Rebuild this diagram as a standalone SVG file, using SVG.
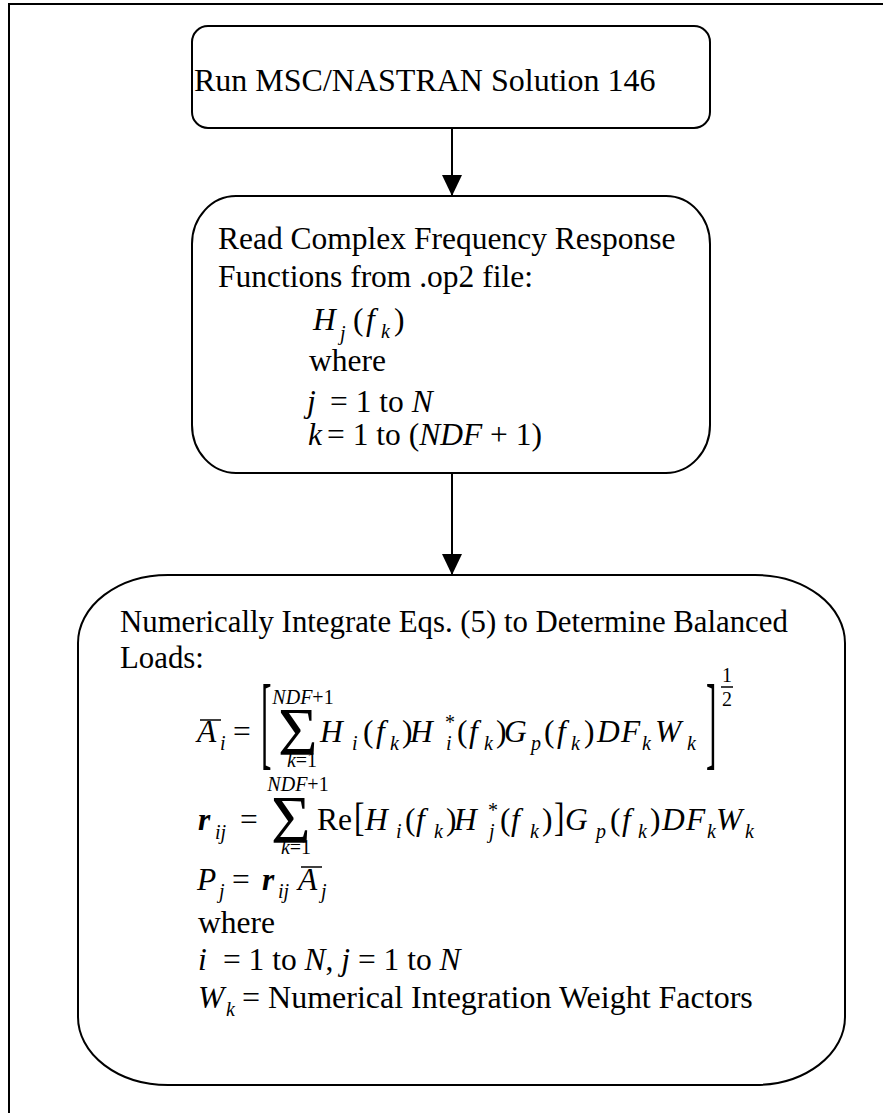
<svg xmlns="http://www.w3.org/2000/svg" width="883" height="1113" viewBox="0 0 883 1113">
<style>
text{font-family:"Liberation Serif","Times New Roman",serif;fill:#000}
.t{font-size:31.5px}
.it{font-style:italic}
.bi{font-style:italic;font-weight:bold}
.s{font-size:20px}
.box{fill:#fff;stroke:#000;stroke-width:2}
.ln{stroke:#000;stroke-width:2;fill:none}
.bar{stroke:#000;stroke-width:1.5}
</style>
<defs>
<marker id="ah" markerWidth="21" markerHeight="20" refX="21" refY="10" orient="auto" markerUnits="userSpaceOnUse">
<path d="M0,0 L21,10 L0,20 Z" fill="#000"/>
</marker>
</defs>
<rect x="9" y="4" width="900" height="1200" fill="#fff" stroke="#000" stroke-width="2"/>
<g id="connectors">
<line class="ln" x1="452" y1="128" x2="452" y2="196" marker-end="url(#ah)"/>
<line class="ln" x1="452" y1="473" x2="452" y2="575" marker-end="url(#ah)"/>
</g>
<g id="n1">
<rect class="box" x="192" y="26" width="518" height="102" rx="16" ry="16"/>
<text x="194" y="91" style="font-size:32px">Run MSC/NASTRAN Solution 146</text>
</g>
<g id="n2">
<rect class="box" x="192" y="196" width="518" height="277" rx="44" ry="48"/>
<text class="t" x="218" y="249">Read Complex Frequency Response</text>
<text class="t" x="218" y="287">Functions from .op2 file:</text>
<text class="t" y="330"><tspan class="it" x="313">H</tspan><tspan class="it s" x="340" dy="10">j</tspan><tspan x="353" dy="-10">(</tspan><tspan class="it" x="366">f</tspan><tspan class="it s" x="381" dy="8">k</tspan><tspan x="394" dy="-8">)</tspan></text>
<text class="t" x="309" y="371">where</text>
<text class="t" y="412"><tspan class="it" x="307">j</tspan><tspan x="330">= 1 to </tspan><tspan class="it">N</tspan></text>
<text class="t" y="445"><tspan class="it" x="308">k</tspan><tspan x="327">= 1 to (</tspan><tspan class="it">NDF</tspan> + 1)</text>
</g>
<g id="n3">
<rect class="box" x="78" y="575" width="767" height="510" rx="90" ry="68"/>
<text class="t" x="120" y="632" style="font-size:30.8px">Numerically Integrate Eqs. (5) to Determine Balanced</text>
<text class="t" x="120" y="668" style="font-size:30.8px">Loads:</text>
<!-- Eq 1 -->
<line class="bar" x1="200" y1="720" x2="221" y2="720"/>
<text class="t" y="742"><tspan class="it" x="197">A</tspan><tspan class="it s" x="220" dy="8">i</tspan><tspan x="233" dy="-8">=</tspan></text>
<text class="t" transform="translate(261,756) scale(1,3.3)">[</text>
<text x="278" y="754" style="font-size:68px">Σ</text>
<text class="s" x="303" y="704" text-anchor="middle"><tspan class="it">NDF</tspan>+1</text>
<text class="s" x="302" y="767" text-anchor="middle"><tspan class="it">k</tspan>=1</text>
<text class="t" y="742"><tspan class="it" x="320">H</tspan><tspan class="it s" x="352" dy="8">i</tspan><tspan x="363" dy="-8">(</tspan><tspan class="it" x="376">f</tspan><tspan class="it s" x="390" dy="8">k</tspan><tspan x="402" dy="-8">)</tspan><tspan class="it" x="410">H</tspan><tspan class="s" x="445" dy="-13">*</tspan><tspan class="it s" x="446" dy="21">i</tspan><tspan x="457" dy="-8">(</tspan><tspan class="it" x="469">f</tspan><tspan class="it s" x="484" dy="8">k</tspan><tspan x="496" dy="-8">)</tspan><tspan class="it" x="504">G</tspan><tspan class="it s" x="531" dy="8">p</tspan><tspan x="544" dy="-8">(</tspan><tspan class="it" x="557">f</tspan><tspan class="it s" x="571" dy="8">k</tspan><tspan x="584" dy="-8">)</tspan><tspan class="it" x="597">D</tspan><tspan class="it" x="621">F</tspan><tspan class="it s" x="642" dy="8">k</tspan><tspan class="it" x="655" dy="-8">W</tspan><tspan class="it s" x="687" dy="8">k</tspan></text>
<text class="t" transform="translate(706,756) scale(1,3.3)">]</text>
<text class="s" x="722" y="682">1</text>
<line class="bar" x1="721" y1="687" x2="733" y2="687"/>
<text class="s" x="722" y="706">2</text>
<!-- Eq 2 -->
<text class="t" y="830"><tspan class="bi" x="198">r</tspan><tspan class="it s" x="215" dy="9">ij</tspan><tspan x="240" dy="-9">=</tspan></text>
<text x="271" y="842" style="font-size:68px">Σ</text>
<text class="s" x="298" y="791" text-anchor="middle"><tspan class="it">NDF</tspan>+1</text>
<text class="s" x="296" y="854" text-anchor="middle"><tspan class="it">k</tspan>=1</text>
<text class="t" x="317" y="830">Re</text>
<text class="t" transform="translate(354,830.6) scale(1,1.3)">[</text>
<text class="t" y="830"><tspan class="it" x="365">H</tspan><tspan class="it s" x="396" dy="8">i</tspan><tspan x="405" dy="-8">(</tspan><tspan class="it" x="416">f</tspan><tspan class="it s" x="434" dy="8">k</tspan><tspan x="446" dy="-8">)</tspan><tspan class="it" x="454">H</tspan><tspan class="s" x="488" dy="-13">*</tspan><tspan class="it s" x="489" dy="21">j</tspan><tspan x="500" dy="-8">(</tspan><tspan class="it" x="511">f</tspan><tspan class="it s" x="530" dy="8">k</tspan><tspan x="542" dy="-8">)</tspan></text>
<text class="t" transform="translate(554,830.6) scale(1,1.3)">]</text>
<text class="t" y="830"><tspan class="it" x="565">G</tspan><tspan class="it s" x="596" dy="8">p</tspan><tspan x="610" dy="-8">(</tspan><tspan class="it" x="622">f</tspan><tspan class="it s" x="638" dy="8">k</tspan><tspan x="650" dy="-8">)</tspan><tspan class="it" x="662">D</tspan><tspan class="it" x="686">F</tspan><tspan class="it s" x="707" dy="8">k</tspan><tspan class="it" x="716" dy="-8">W</tspan><tspan class="it s" x="745" dy="8">k</tspan></text>
<!-- Eq 3 -->
<line class="bar" x1="301" y1="867" x2="322" y2="867"/>
<text class="t" y="890"><tspan class="it" x="197">P</tspan><tspan class="it s" x="219" dy="8">j</tspan><tspan x="232" dy="-8">=</tspan><tspan class="bi" x="262">r</tspan><tspan class="it s" x="278" dy="8">ij</tspan><tspan class="it" x="298" dy="-8">A</tspan><tspan class="it s" x="321" dy="8">j</tspan></text>
<text class="t" x="198" y="933">where</text>
<text class="t" y="970"><tspan class="it" x="198">i</tspan><tspan x="215"> = 1 to </tspan><tspan class="it">N</tspan>, <tspan class="it">j</tspan> = 1 to <tspan class="it">N</tspan></text>
<text class="t" y="1008"><tspan class="it" x="198">W</tspan><tspan class="it s" x="226" dy="8">k</tspan><tspan x="242" dy="-8" style="font-size:32px">= Numerical Integration Weight Factors</tspan></text>
</g>
</svg>
